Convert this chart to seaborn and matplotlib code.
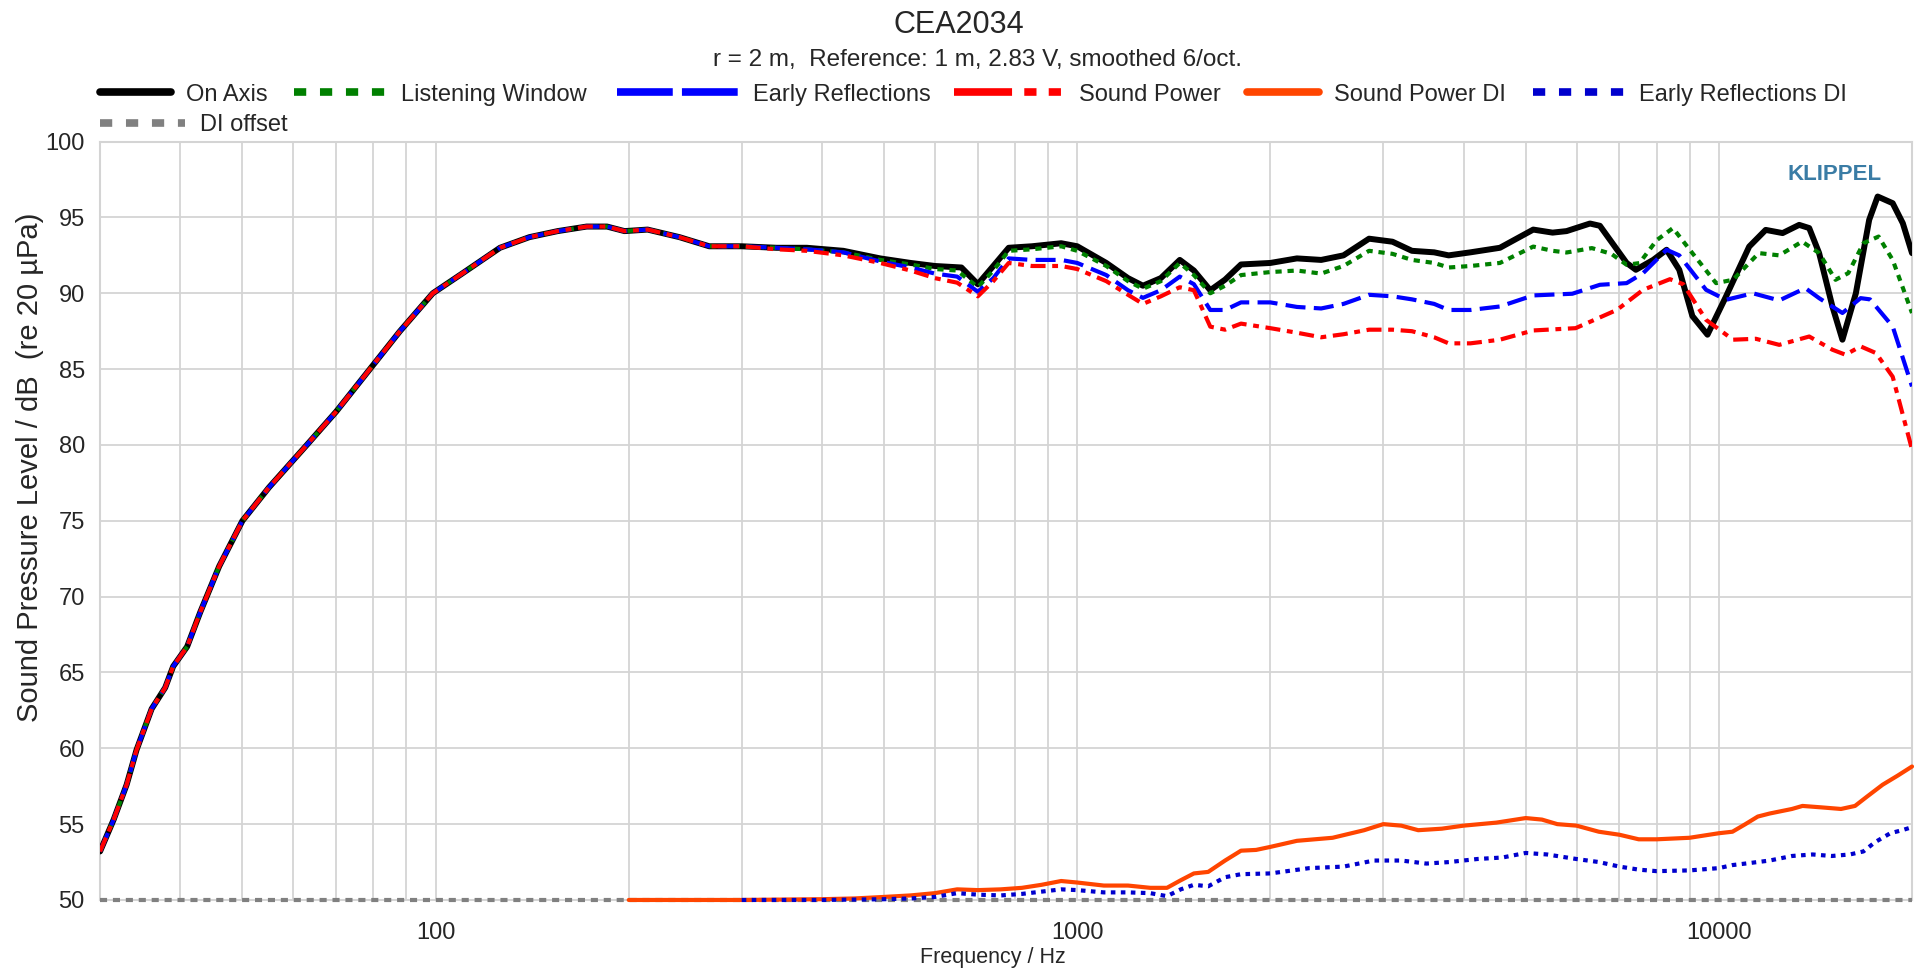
import matplotlib
matplotlib.use("Agg")
import matplotlib.pyplot as plt
import matplotlib.lines as mlines
import seaborn as sns
from matplotlib.ticker import LogLocator, MultipleLocator, NullFormatter

# gemeinsamer Tieftonbereich (alle vier Kurven identisch)
low_f = [30, 31.5, 33, 34.2, 36.1, 37.9, 39, 41, 43, 46, 50, 55, 63, 70, 79, 88, 99,
         110, 126, 140, 155, 172, 185, 197, 214, 240, 267, 300]
low_db = [53.2, 55.3, 57.6, 59.9, 62.6, 64.0, 65.4, 66.7, 69.0, 72.0, 75.0, 77.2, 80.0,
          82.2, 85.0, 87.5, 90.0, 91.3, 93.0, 93.7, 94.1, 94.4, 94.4, 94.1, 94.2, 93.7,
          93.1, 93.1]

# On Axis
on_f = [340, 379, 432, 493, 550, 600, 660, 700, 740, 782, 850, 944, 1000, 1110, 1200,
        1266, 1350, 1445, 1520, 1612, 1700, 1800, 2000, 2200, 2400, 2600, 2850, 3100,
        3324, 3600, 3792, 4100, 4558, 5137, 5506, 5790, 6297, 6525, 7182, 7424, 7900,
        8290, 8675, 9093, 9600, 10260, 11150, 11830, 12570, 13340, 13830, 14330, 15030,
        15580, 16350, 17150, 17680, 18660, 19350, 20000]
on_db = [93.0, 93.0, 92.8, 92.3, 92.0, 91.8, 91.7, 90.6, 91.8, 93.0, 93.1, 93.3, 93.1,
         92.0, 91.0, 90.5, 91.0, 92.2, 91.5, 90.2, 90.9, 91.9, 92.0, 92.3, 92.2, 92.5,
         93.6, 93.4, 92.8, 92.7, 92.5, 92.7, 93.0, 94.2, 94.0, 94.1, 94.6, 94.45, 92.0,
         91.55, 92.2, 92.87, 91.55, 88.5, 87.27, 89.79, 93.08, 94.18, 93.97, 94.51, 94.3,
         92.65, 89.13, 86.94, 90.0, 94.84, 96.38, 95.94, 94.62, 92.65]

# Listening Window
lw_f = [340, 379, 432, 493, 550, 600, 650, 700, 740, 782, 850, 944, 1000, 1110, 1200,
        1266, 1350, 1445, 1520, 1612, 1700, 1800, 2000, 2200, 2400, 2600, 2850, 3100,
        3324, 3600, 3792, 4100, 4558, 5137, 5506, 5790, 6340, 6800, 7182, 7520, 8000,
        8480, 9093, 9900, 10520, 11540, 12420, 13480, 14330, 15200, 15910, 16800, 17740,
        18660, 20000]
lw_db = [93.0, 92.9, 92.7, 92.2, 91.9, 91.6, 91.5, 90.4, 91.5, 92.8, 92.9, 93.1, 92.8,
         91.8, 90.8, 90.3, 90.8, 92.0, 91.2, 90.0, 90.5, 91.2, 91.4, 91.5, 91.3, 91.8,
         92.8, 92.6, 92.2, 92.0, 91.7, 91.8, 92.0, 93.08, 92.8, 92.69, 92.98, 92.6, 91.88,
         91.99, 93.5, 94.3, 92.65, 90.67, 90.89, 92.65, 92.5, 93.41, 92.65, 90.89, 91.33,
         93.3, 93.74, 92.2, 88.7]

# Early Reflections
er_f = [340, 379, 432, 493, 550, 600, 650, 700, 740, 782, 850, 944, 1000, 1110, 1200,
        1266, 1350, 1445, 1520, 1612, 1700, 1800, 2000, 2200, 2400, 2600, 2850, 3100,
        3324, 3600, 3792, 4100, 4558, 5137, 5910, 6525, 7182, 7620, 8290, 8675, 9550,
        10260, 11300, 12420, 13640, 14330, 15580, 16630, 17200, 18660, 20000]
er_db = [93.0, 92.9, 92.7, 92.1, 91.7, 91.3, 91.1, 90.1, 91.0, 92.3, 92.2, 92.2, 92.0,
         91.2, 90.2, 89.7, 90.2, 91.1, 90.6, 88.9, 88.9, 89.4, 89.4, 89.1, 89.0, 89.3,
         89.9, 89.8, 89.6, 89.3, 88.9, 88.9, 89.13, 89.86, 89.97, 90.56, 90.67, 91.33,
         92.87, 92.5, 90.23, 89.57, 90.0, 89.53, 90.34, 89.68, 88.7, 89.68, 89.6, 87.81,
         83.86]

# Sound Power
sp_f = [340, 379, 432, 493, 550, 600, 650, 700, 740, 782, 850, 944, 1000, 1110, 1200,
        1266, 1350, 1445, 1520, 1612, 1700, 1800, 2000, 2200, 2400, 2600, 2850, 3100,
        3324, 3600, 3792, 4100, 4558, 5137, 5980, 6940, 7620, 8390, 8800, 9550, 10520,
        11420, 12420, 13830, 15030, 15750, 16630, 17570, 18660, 20000]
sp_db = [92.9, 92.8, 92.5, 92.0, 91.5, 91.0, 90.7, 89.8, 90.8, 92.0, 91.8, 91.8, 91.6,
         90.8, 89.9, 89.3, 89.8, 90.4, 90.2, 87.8, 87.6, 88.0, 87.7, 87.4, 87.1, 87.3,
         87.6, 87.6, 87.5, 87.1, 86.7, 86.7, 86.94, 87.55, 87.7, 88.91, 90.23, 90.93,
         90.6, 88.25, 86.94, 87.0, 86.6, 87.15, 86.28, 85.95, 86.5, 86.06, 84.5, 79.7]

# Sound Power DI
spdi_f = [200, 300, 400, 450, 500, 550, 600, 650, 700, 760, 820, 880, 944, 1000, 1100,
          1200, 1300, 1380, 1450, 1520, 1600, 1700, 1800, 1900, 2000, 2200, 2500, 2800,
          3000, 3200, 3400, 3700, 4000, 4500, 5000, 5300, 5600, 6000, 6500, 7000, 7500,
          8000, 9000, 10000, 10500, 11000, 11500, 12000, 13000, 13500, 14500, 15500,
          16300, 17000, 18000, 19000, 20000]
spdi_db = [50.0, 50.0, 50.05, 50.1, 50.2, 50.3, 50.45, 50.7, 50.65, 50.7, 50.8, 51.0,
           51.25, 51.15, 50.95, 50.95, 50.8, 50.8, 51.3, 51.75, 51.85, 52.6, 53.25, 53.3,
           53.5, 53.9, 54.1, 54.6, 55.0, 54.9, 54.6, 54.7, 54.9, 55.1, 55.4, 55.3, 55.0,
           54.9, 54.5, 54.3, 54.0, 54.0, 54.1, 54.4, 54.5, 55.0, 55.5, 55.7, 56.0, 56.2,
           56.1, 56.0, 56.2, 56.8, 57.6, 58.2, 58.8]

# Early Reflections DI
erdi_f = [300, 400, 500, 550, 600, 650, 700, 760, 820, 880, 944, 1000, 1100, 1200, 1300,
          1380, 1450, 1520, 1600, 1700, 1800, 2000, 2300, 2600, 2900, 3200, 3500, 3800,
          4200, 4600, 5000, 5400, 6000, 6500, 7000, 7500, 8000, 9000, 10000, 10500,
          11000, 12000, 13000, 14000, 15000, 16000, 16800, 17500, 18500, 19300, 20000]
erdi_db = [50.0, 50.0, 50.05, 50.1, 50.2, 50.45, 50.35, 50.3, 50.4, 50.55, 50.7, 50.65,
           50.5, 50.5, 50.45, 50.25, 50.7, 51.0, 50.9, 51.5, 51.7, 51.75, 52.1, 52.2,
           52.6, 52.6, 52.4, 52.5, 52.7, 52.8, 53.1, 53.0, 52.7, 52.5, 52.2, 52.0, 51.9,
           51.95, 52.1, 52.3, 52.4, 52.6, 52.9, 53.0, 52.9, 53.0, 53.2, 53.8, 54.4, 54.6,
           54.8]

# DI offset
off_f = [30, 20000]
off_db = [50, 50]

sns.set_style("white")
plt.rcParams['font.family'] = ['Liberation Sans', 'DejaVu Sans']

W, H = 1917, 976
fig = plt.figure(figsize=(W / 100, H / 100), dpi=100)
ax = fig.add_axes([0.0522, 0.0779, 0.9452, 0.7770])

GRID = '#d4d4d4'
colors = {
    'On Axis': 'black',
    'Listening Window': '#008000',
    'Early Reflections': '#0000ff',
    'Sound Power': '#ff0000',
    'Sound Power DI': '#ff4500',
    'Early Reflections DI': '#0000cd',
    'DI offset': '#808080',
}
# Linienstile im Diagramm
plot_ls = {
    'On Axis': ('-', 4.3),
    'Listening Window': ((0, (1.5, 1.4)), 3),
    'Early Reflections': ((0, (4.8, 2.0)), 3),
    'Sound Power': ((0, (3.6, 1.6, 1.4, 1.6)), 3),
    'Sound Power DI': ('-', 3),
    'Early Reflections DI': ((0, (1.1, 1.3)), 3),
    'DI offset': ((0, (1.7, 1.4)), 3),
}
# Linienstile in der Legende
leg_ls = {
    'On Axis': '-',
    'Listening Window': (0, (1.6, 1.8)),
    'Early Reflections': (0, (7.3, 1.2)),
    'Sound Power': (0, (7.6, 1.6, 1.6, 1.6, 1.6, 1.6)),
    'Sound Power DI': '-',
    'Early Reflections DI': (0, (1.6, 1.8)),
    'DI offset': (0, (1.6, 1.8)),
}

series = [
    ('On Axis', low_f + on_f, low_db + on_db, 5, True),
    ('Listening Window', low_f + lw_f, low_db + lw_db, 6, True),
    ('Early Reflections', low_f + er_f, low_db + er_db, 7, True),
    ('Sound Power', low_f + sp_f, low_db + sp_db, 8, True),
    ('DI offset', off_f, off_db, 3, False),
    ('Sound Power DI', spdi_f, spdi_db, 4, False),
    ('Early Reflections DI', erdi_f, erdi_db, 4.5, False),
]
for name, f, db, z, clip in series:
    ls, lw = plot_ls[name]
    sns.lineplot(x=f, y=db, ax=ax, sort=False, estimator=None, zorder=z,
                 color=colors[name], linestyle=ls, linewidth=lw, clip_on=clip)

ax.set_xscale('log')
ax.set_xlim(30, 20000)
ax.set_ylim(50, 100)
ax.set_xticks([100, 1000, 10000], ['100', '1000', '10000'])
ax.xaxis.set_minor_locator(LogLocator(base=10, subs=range(2, 10)))
ax.xaxis.set_minor_formatter(NullFormatter())
ax.yaxis.set_major_locator(MultipleLocator(5))
ax.yaxis.set_minor_locator(MultipleLocator(1))

ax.set_axisbelow(True)
ax.grid(which='both', axis='x', color=GRID, linewidth=1.3)
ax.grid(which='major', axis='y', color=GRID, linewidth=1.3)
for s in ax.spines.values():
    s.set_color(GRID)
    s.set_linewidth(1.5)

ax.tick_params(axis='x', which='major', length=13, width=1, color=GRID,
               direction='out', labelsize=17, pad=3)
ax.tick_params(axis='x', which='minor', length=0)
ax.tick_params(axis='y', which='major', length=9, width=1, color=GRID,
               direction='out', labelsize=17, pad=2)
ax.tick_params(axis='y', which='minor', length=8, width=1, color=GRID, direction='in')

ax.set_xlabel('Frequency / Hz', fontsize=15.5)
ax.xaxis.set_label_coords(0.493, -0.062)
ax.set_ylabel('Sound Pressure Level / dB  (re 20 µPa)', fontsize=21)
ax.yaxis.set_label_coords(-0.031, 0.571)

ax.text(0.957, 0.956, 'KLIPPEL', transform=ax.transAxes, ha='center', va='center',
        fontsize=16, fontweight='bold', color='#3a7ca5')

fig.text(0.5, 0.974, 'CEA2034', ha='center', va='center', fontsize=22)
fig.text(0.510, 0.939, 'r = 2 m,  Reference: 1 m, 2.83 V, smoothed 6/oct.',
         ha='center', va='center', fontsize=17.5)

# Legende: jeder Eintrag einzeln platziert (Pixel: Linienanfang, Textanfang, Zeile)
FS = 17
fs_px = FS * 100 / 72
legend_items = [
    ('On Axis', 100, 185.5, 0),
    ('Listening Window', 294, 401, 0),
    ('Early Reflections', 617, 753, 0),
    ('Sound Power', 954, 1079, 0),
    ('Sound Power DI', 1247, 1333.5, 0),
    ('Early Reflections DI', 1532.5, 1639, 0),
    ('DI offset', 100, 200, 1),
]
row_y = [0.9030, 0.8715]
pad_px = 15
for name, hx, tx, row in legend_items:
    h = mlines.Line2D([], [], color=colors[name], linestyle=leg_ls[name], linewidth=5.5)
    fig.legend([h], [name], loc='center left', bbox_to_anchor=(hx / W, row_y[row]),
               frameon=False, fontsize=FS, borderpad=0, borderaxespad=0,
               handlelength=(tx - hx - pad_px) / fs_px, handletextpad=pad_px / fs_px)

fig.savefig('out.png', dpi=100)
